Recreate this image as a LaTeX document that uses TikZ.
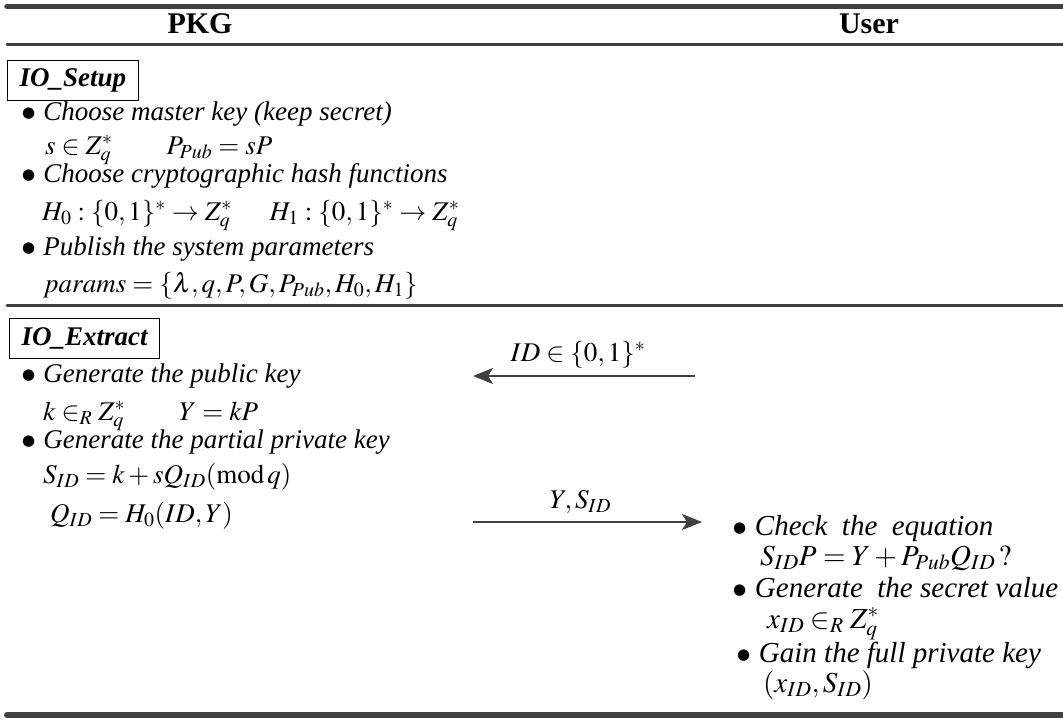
\documentclass[tikz,border=0pt]{standalone}
\usepackage{mathptmx}
\usepackage{fontspec}
\setmainfont{Liberation Serif}
\newfontfamily\dotfont{DejaVu Sans}
\usetikzlibrary{positioning,arrows.meta}

\definecolor{rulegray}{HTML}{404040}

\tikzset{
  rule/.style={draw=rulegray, line cap=round},
  head/.style={anchor=base, inner sep=0pt, font=\fontsize{30}{36}\selectfont\bfseries},
  phase/.style={draw, line width=1.2pt, anchor=north west, minimum height=40pt,
    inner xsep=12pt, font=\fontsize{27}{32}\selectfont\bfseries\itshape},
  item/.style={inner sep=0pt, font=\fontsize{27}{32}\selectfont\itshape},
  uitem/.style={inner sep=0pt, font=\fontsize{29}{34}\selectfont\itshape},
  msg/.style={draw=rulegray, line width=2.5pt, -{Stealth[length=20pt,width=16pt,inset=5pt]}},
  lbl/.style={inner sep=0pt, font=\fontsize{27}{32}\selectfont},
}
\newcommand{\bul}{{\dotfont\fontsize{15}{15}\selectfont\raisebox{3pt}{●}}\hspace{0.3em}}

\begin{document}
\begin{tikzpicture}[x=1pt, y=-1pt]
  \useasboundingbox (0,0) rectangle (1063,721);

  % rules of the table
  \draw[rule, line width=5.5pt] (7,6.5) -- (1063,6.5);
  \draw[rule, line width=3pt]   (7,44)  -- (1063,44);
  \draw[rule, line width=3pt]   (7,305) -- (1063,305);
  \draw[rule, line width=6pt]   (7,715) -- (1063,715);

  % parties
  \node[head] (pkg)  at (200,33) {PKG};
  \node[head] (user) at (869,33) {User};

  % IO_Setup
  \node[phase] (setup) at (7,60) {IO\_Setup};
  \node[item, anchor=base west] (s1) at (22,120) {\bul Choose master key (keep secret)};
  \node[item, below=34pt of s1.base west, anchor=base west, xshift=23pt] (s1f)
    {$s\in Z_q^*\qquad P_{Pub}=sP$};
  \node[item, below=28pt of s1f.base west, anchor=base west, xshift=-23pt] (s2)
    {\bul Choose cryptographic hash functions};
  \node[item, below=38pt of s2.base west, anchor=base west, xshift=20pt] (s2f)
    {$H_0:\{0,1\}^*\rightarrow Z_q^*\hspace{1.4em}H_1:\{0,1\}^*\rightarrow Z_q^*$};
  \node[item, below=35pt of s2f.base west, anchor=base west, xshift=-20pt] (s3)
    {\bul Publish the system parameters};
  \node[item, below=37pt of s3.base west, anchor=base west, xshift=21pt] (s3f)
    {$params=\{\lambda,q,P,G,P_{Pub},H_0,H_1\}$};

  % IO_Extract
  \node[phase] (extract) at (9,318) {IO\_Extract};
  \node[item, anchor=base west] (e1) at (22,382) {\bul Generate the public key};
  \node[item, below=38pt of e1.base west, anchor=base west, xshift=21pt] (e1f)
    {$k\in_R Z_q^*\qquad Y=kP$};
  \node[item, below=28pt of e1f.base west, anchor=base west, xshift=-21pt] (e2)
    {\bul Generate the partial private key};
  \node[item, below=35pt of e2.base west, anchor=base west, xshift=21pt] (e2f)
    {$S_{ID}=k+sQ_{ID}(\mathrm{mod}\,q)$};
  \node[item, below=39pt of e2f.base west, anchor=base west, xshift=7pt] (e3f)
    {$Q_{ID}=H_0(ID,Y)$};

  % user side
  \node[uitem, anchor=base west] (u1) at (733,535) {\bul Check\ \ the\ \ equation};
  \node[uitem, below=30pt of u1.base west, anchor=base west, xshift=27pt] (u1f)
    {$S_{ID}P=Y+P_{Pub}Q_{ID}\,?$};
  \node[uitem, below=32pt of u1f.base west, anchor=base west, xshift=-27pt] (u2)
    {\bul Generate\ \ the secret value};
  \node[uitem, below=31pt of u2.base west, anchor=base west, xshift=34pt] (u2f)
    {$x_{ID}\in_R Z_q^*$};
  \node[uitem, below=34pt of u2f.base west, anchor=base west, xshift=-30pt] (u3)
    {\bul Gain the full private key};
  \node[uitem, below=30pt of u3.base west, anchor=base west, xshift=26pt] (u3f)
    {$(x_{ID},S_{ID})$};

  % messages
  \coordinate (idfrom) at (695,376);
  \coordinate (idto)   at (473,376);
  \draw[msg] (idfrom) -- node[lbl, above=7pt, xshift=-6pt] (idlbl) {$ID\in\{0,1\}^*$} (idto);
  \coordinate (keyfrom) at (473,522);
  \coordinate (keyto)   at (702,522);
  \draw[msg] (keyfrom) -- node[lbl, above=7pt, xshift=-7pt] (keylbl) {$Y,S_{ID}$} (keyto);

\end{tikzpicture}
\end{document}
